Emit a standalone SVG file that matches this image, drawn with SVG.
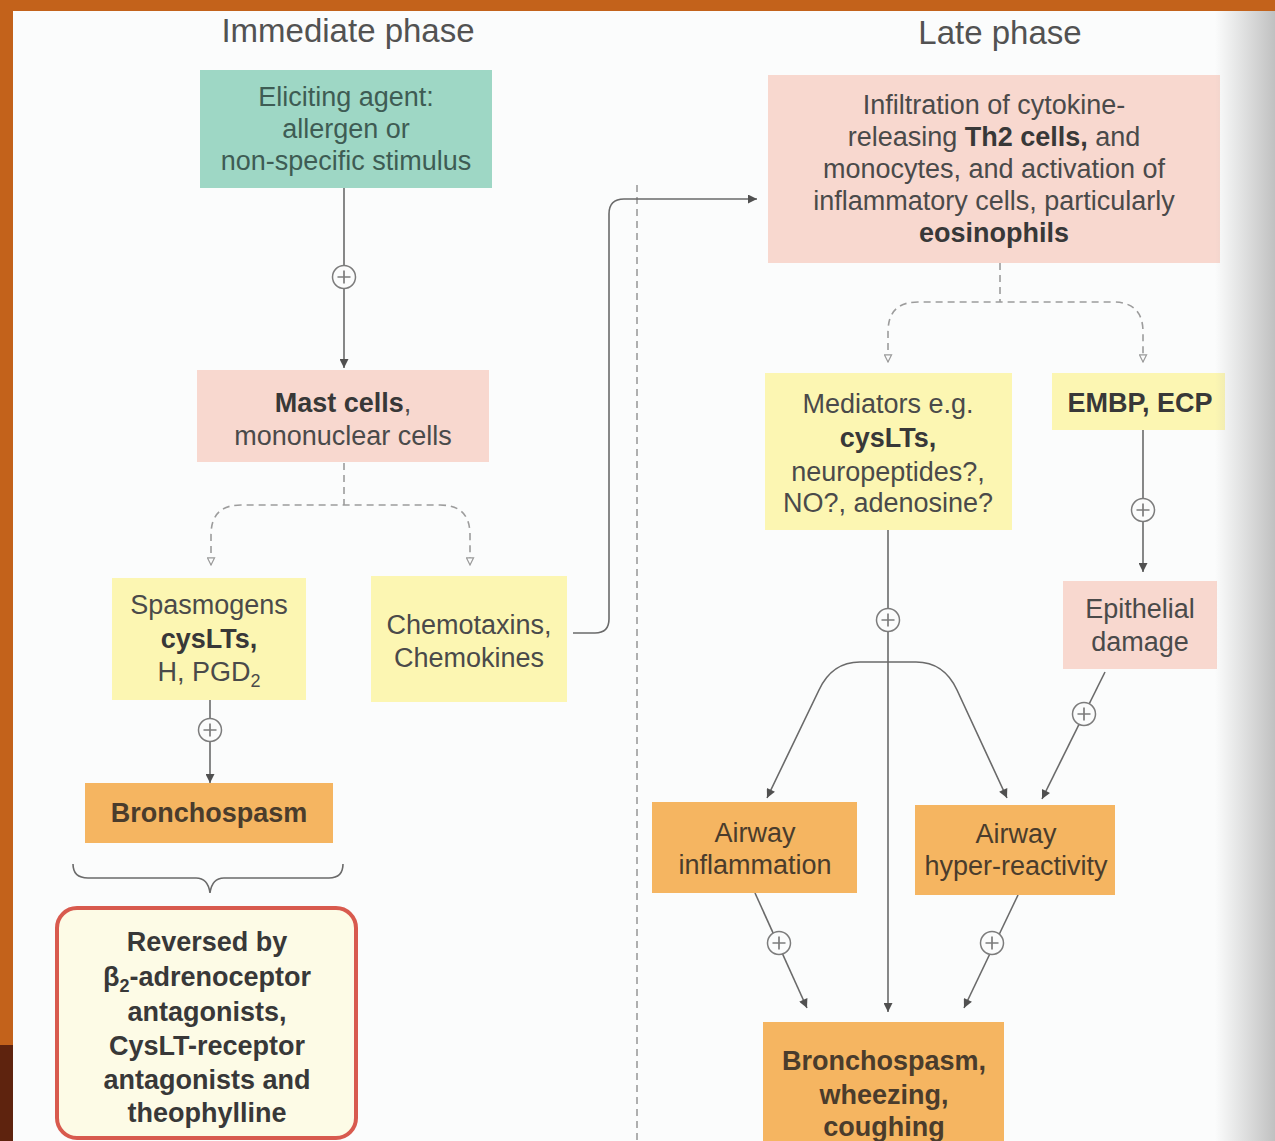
<svg xmlns="http://www.w3.org/2000/svg" width="1275" height="1141" viewBox="0 0 1275 1141">
<defs>
<style>
text{font-family:"Liberation Sans",Arial,sans-serif;font-size:27px;fill:#4a4a4a;text-anchor:middle}
.b{font-weight:bold;fill:#383838}
.title{font-size:33px;fill:#525252}
.tg{fill:#3e5c54}
.to{fill:#4a3c2c}
.ln{fill:none;stroke:#6a6a6a;stroke-width:1.6}
.dl{fill:none;stroke:#9c9c9c;stroke-width:1.6;stroke-dasharray:7 5}
.plus circle{fill:#fbfcfc;stroke:#7c7c7c;stroke-width:1.5}
.plus path{stroke:#7c7c7c;stroke-width:1.7;fill:none}
.green{fill:#9ed7c5}
.pink{fill:#f8d8cf}
.yellow{fill:#fcf6b2}
.orange{fill:#f5b561}
</style>
<marker id="ah" viewBox="0 0 10 10" refX="10" refY="5" markerWidth="12" markerHeight="9" markerUnits="userSpaceOnUse" orient="auto"><path d="M0,0 L10,5 L0,10 z" fill="#505050"/></marker>
<marker id="oh" viewBox="0 0 10 10" refX="9" refY="5" markerWidth="10" markerHeight="9" markerUnits="userSpaceOnUse" orient="auto-start-reverse"><path d="M1,1 L9,5 L1,9 z" fill="#fbfcfc" stroke="#999" stroke-width="1.3"/></marker>
<g id="plus" class="plus"><circle r="11.5"/><path d="M-6.5 0H6.5M0-6.5V6.5"/></g>
<linearGradient id="shade" x1="0" x2="1" y1="0" y2="0"><stop offset="0" stop-color="#b0b0b0" stop-opacity="0"/><stop offset="1" stop-color="#adadad" stop-opacity="0.75"/></linearGradient>
</defs>

<rect x="0" y="0" width="1275" height="1141" fill="#c3621b"/>
<rect x="0" y="1045" width="13" height="96" fill="#5e230e"/>
<rect x="13" y="11" width="1262" height="1130" fill="#fbfcfc"/>

<text class="title" x="348" y="42">Immediate phase</text>
<text class="title" x="1000" y="44">Late phase</text>

<g id="connectors">
<path class="dl" d="M637 185V1141"/>
<path class="ln" d="M344 188V368" marker-end="url(#ah)"/>
<path class="dl" d="M344 463V505"/>
<path class="dl" d="M211 565V535Q211 505 241 505H440Q470 505 470 535V565" marker-start="url(#oh)" marker-end="url(#oh)"/>
<path class="ln" d="M210 700V783" marker-end="url(#ah)"/>
<path class="ln" d="M73 864Q73 878 88 878H196Q208 878 210 893Q212 878 224 878H329Q343 878 343 864"/>
<path class="ln" d="M573 633H595Q609 633 609 619V214Q609 199 624 199H757" marker-end="url(#ah)"/>
<path class="dl" d="M1000 263V302"/>
<path class="dl" d="M888 362V332Q888 302 918 302H1113Q1143 302 1143 332V362" marker-start="url(#oh)" marker-end="url(#oh)"/>
<path class="ln" d="M888 530V1012" marker-end="url(#ah)"/>
<path class="ln" d="M1143 430V572" marker-end="url(#ah)"/>
<path class="ln" d="M888 662H860Q832 662 819 690L767 798" marker-end="url(#ah)"/>
<path class="ln" d="M888 662H916Q944 662 957 690L1007 798" marker-end="url(#ah)"/>
<path class="ln" d="M1105 672L1042 799" marker-end="url(#ah)"/>
<path class="ln" d="M755 893L807 1008" marker-end="url(#ah)"/>
<path class="ln" d="M1018 895L964 1008" marker-end="url(#ah)"/>
<use href="#plus" x="344" y="277"/>
<use href="#plus" x="210" y="730"/>
<use href="#plus" x="888" y="620"/>
<use href="#plus" x="1143" y="510"/>
<use href="#plus" x="1084" y="714"/>
<use href="#plus" x="779" y="943"/>
<use href="#plus" x="992" y="943"/>
</g>

<g id="eliciting">
<rect class="green" x="200" y="70" width="292" height="118"/>
<text class="tg" x="346" y="106">Eliciting agent:</text>
<text class="tg" x="346" y="138">allergen or</text>
<text class="tg" x="346" y="170">non-specific stimulus</text>
</g>

<g id="mast">
<rect class="pink" x="197" y="370" width="292" height="92"/>
<text x="343" y="412"><tspan class="b">Mast cells</tspan>,</text>
<text x="343" y="445">mononuclear cells</text>
</g>

<g id="spasmogens">
<rect class="yellow" x="112" y="578" width="194" height="122"/>
<text x="209" y="614">Spasmogens</text>
<text x="209" y="648" class="b">cysLTs,</text>
<text x="209" y="681">H, PGD<tspan font-size="18" dy="6">2</tspan></text>
</g>

<g id="chemotaxins">
<rect class="yellow" x="371" y="576" width="196" height="126"/>
<text x="469" y="634">Chemotaxins,</text>
<text x="469" y="667">Chemokines</text>
</g>

<g id="bronchospasm1">
<rect class="orange" x="85" y="783" width="248" height="60"/>
<text class="b to" x="209" y="822">Bronchospasm</text>
</g>

<g id="reversed">
<rect x="57" y="908" width="299" height="230" rx="20" fill="#fdfbe6" stroke="#d85a4e" stroke-width="4"/>
<text class="b" x="207" y="951">Reversed by</text>
<text class="b" x="207" y="986">β<tspan font-size="18" dy="6">2</tspan><tspan dy="-6">-adrenoceptor</tspan></text>
<text class="b" x="207" y="1021">antagonists,</text>
<text class="b" x="207" y="1055">CysLT-receptor</text>
<text class="b" x="207" y="1089">antagonists and</text>
<text class="b" x="207" y="1122">theophylline</text>
</g>

<g id="infiltration">
<rect class="pink" x="768" y="75" width="452" height="188"/>
<text x="994" y="114">Infiltration of cytokine-</text>
<text x="994" y="146">releasing <tspan class="b">Th2 cells,</tspan> and</text>
<text x="994" y="178">monocytes, and activation of</text>
<text x="994" y="210">inflammatory cells, particularly</text>
<text x="994" y="242" class="b">eosinophils</text>
</g>

<g id="mediators">
<rect class="yellow" x="765" y="373" width="247" height="157"/>
<text x="888" y="413">Mediators e.g.</text>
<text x="888" y="447" class="b">cysLTs,</text>
<text x="888" y="481">neuropeptides?,</text>
<text x="888" y="512">NO?, adenosine?</text>
</g>

<g id="embp">
<rect class="yellow" x="1052" y="373" width="173" height="57"/>
<text x="1140" y="412" class="b">EMBP, ECP</text>
</g>

<g id="epithelial">
<rect class="pink" x="1063" y="581" width="154" height="88"/>
<text x="1140" y="618">Epithelial</text>
<text x="1140" y="651">damage</text>
</g>

<g id="inflammation">
<rect class="orange" x="652" y="802" width="205" height="91"/>
<text class="to" x="755" y="842">Airway</text>
<text class="to" x="755" y="874">inflammation</text>
</g>

<g id="hyperreactivity">
<rect class="orange" x="915" y="805" width="200" height="90"/>
<text class="to" x="1016" y="843">Airway</text>
<text class="to" x="1016" y="875">hyper-reactivity</text>
</g>

<g id="bronchospasm2">
<rect class="orange" x="763" y="1022" width="241" height="125"/>
<text class="b to" x="884" y="1070">Bronchospasm,</text>
<text class="b to" x="884" y="1104">wheezing,</text>
<text class="b to" x="884" y="1136">coughing</text>
</g>

<rect x="1215" y="11" width="60" height="1130" fill="url(#shade)"/>
</svg>
